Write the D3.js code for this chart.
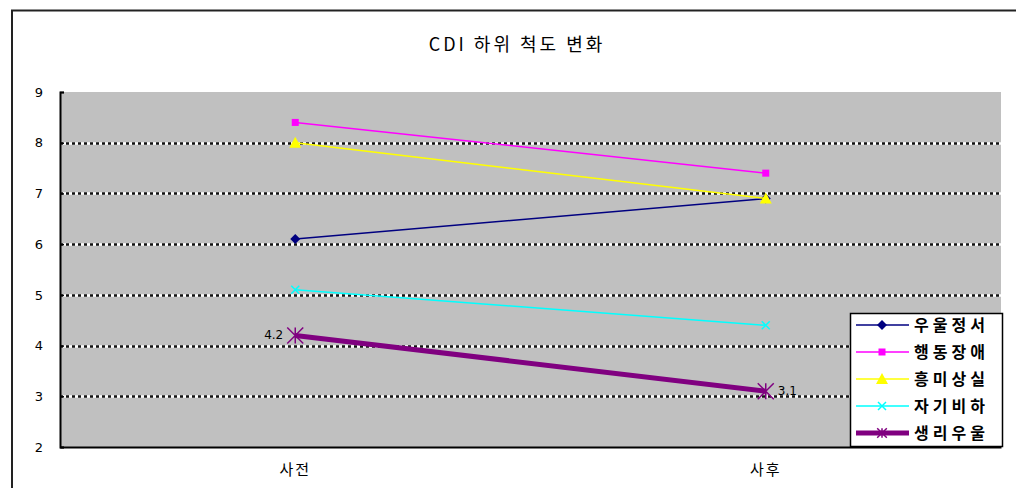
<!DOCTYPE html>
<html>
<head>
<meta charset="utf-8">
<script src="https://cdn.jsdelivr.net/npm/d3@7"></script>
<style>
  html, body { margin: 0; padding: 0; background: #fff; }
  svg { display: block; }
  text { fill: #000; }
</style>
</head>
<body>
<svg id="chart" width="1016" height="488"></svg>
<script>
// CDI subscale scores, before and after
const title = "CDI 하위 척도 변화";
const categories = ["사전", "사후"];
const seriesNames = ["우울정서", "행동장애", "흥미상실", "자기비하", "생리우울"];
const depressedMood = [6.1, 6.9];
const conductProblems = [8.4, 7.4];
const anhedonia = [8.0, 6.9];
const selfDeprecation = [5.1, 4.4];
const physiological = [4.2, 3.1];
const yTicks = [2, 3, 4, 5, 6, 7, 8, 9];
const gridTicks = [3, 4, 5, 6, 7, 8];

const seriesValues = [depressedMood, conductProblems, anhedonia, selfDeprecation, physiological];
const seriesColors = ["#000080", "#ff00ff", "#ffff00", "#00ffff", "#800080"];
const seriesWidths = [1.5, 1.5, 1.5, 1.5, 5];
const seriesMarkers = ["diamond", "square", "triangle", "cross", "star"];
const labelledSeries = 4;

const KR = "'Noto Sans CJK KR', sans-serif";
const NUM = "'DejaVu Sans', sans-serif";

const svg = d3.select("#chart");

// outer frame
svg.append("path")
  .attr("d", "M12,488 L12,10.5 L1016,10.5")
  .attr("fill", "none").attr("stroke", "#222").attr("stroke-width", 2);

const plot = { left: 60, right: 1001, top: 92, bottom: 447 };

const x = d3.scaleBand().domain(categories).range([plot.left, plot.right]);
const xc = c => x(c) + x.bandwidth() / 2;
const y = d3.scaleLinear().domain([2, 9]).range([plot.bottom, plot.top]);

// plot background
svg.append("rect")
  .attr("x", plot.left).attr("y", plot.top)
  .attr("width", plot.right - plot.left).attr("height", plot.bottom - plot.top)
  .attr("fill", "#c0c0c0");

// dotted gridlines
const grid = svg.append("g");
grid.selectAll("line.base").data(gridTicks).join("line")
  .attr("class", "base")
  .attr("x1", plot.left).attr("x2", plot.right)
  .attr("y1", d => Math.round(y(d)) + 0.5).attr("y2", d => Math.round(y(d)) + 0.5)
  .attr("stroke", "#fff").attr("stroke-width", 2.5);
grid.selectAll("line.dash").data(gridTicks).join("line")
  .attr("class", "dash")
  .attr("x1", plot.left).attr("x2", plot.right)
  .attr("y1", d => Math.round(y(d)) + 0.5).attr("y2", d => Math.round(y(d)) + 0.5)
  .attr("stroke", "#111").attr("stroke-width", 2.5).attr("stroke-dasharray", "3,3");

// y axis
const yAxis = svg.append("g")
  .attr("transform", `translate(${plot.left},0)`)
  .call(d3.axisLeft(y).tickValues(yTicks).tickFormat(d3.format("d")).tickSize(-4).tickPadding(17));
yAxis.select(".domain").attr("stroke", "#000").attr("stroke-width", 2);
yAxis.selectAll(".tick line").attr("stroke", "#000").attr("stroke-width", 1.5);
yAxis.selectAll(".tick text").attr("font-size", 13).attr("font-family", NUM).attr("fill", "#000");

// x axis
const xAxis = svg.append("g")
  .attr("transform", `translate(0,${plot.bottom})`)
  .call(d3.axisBottom(x).tickSize(0).tickPadding(17));
xAxis.select(".domain").attr("stroke", "#000").attr("stroke-width", 2);
xAxis.selectAll(".tick text").attr("font-size", 15).attr("font-family", KR)
  .attr("letter-spacing", 2).attr("fill", "#000");

// title
svg.append("text")
  .attr("x", 517).attr("y", 51)
  .attr("text-anchor", "middle")
  .attr("font-size", 18).attr("font-family", KR)
  .attr("letter-spacing", 3)
  .text(title);

// marker shapes
function marker(g, type, color, cx, cy, scale) {
  const s = scale || 1;
  if (type === "diamond") {
    g.append("path").attr("d", `M${cx},${cy - 5 * s}L${cx + 5 * s},${cy}L${cx},${cy + 5 * s}L${cx - 5 * s},${cy}Z`)
      .attr("fill", color);
  } else if (type === "square") {
    g.append("rect").attr("x", cx - 3.5 * s).attr("y", cy - 3.5 * s)
      .attr("width", 7 * s).attr("height", 7 * s).attr("fill", color);
  } else if (type === "triangle") {
    g.append("path").attr("d", `M${cx},${cy - 6 * s}L${cx + 6 * s},${cy + 5 * s}L${cx - 6 * s},${cy + 5 * s}Z`)
      .attr("fill", color);
  } else if (type === "cross") {
    g.append("path").attr("d", `M${cx - 4 * s},${cy - 4 * s}L${cx + 4 * s},${cy + 4 * s}M${cx + 4 * s},${cy - 4 * s}L${cx - 4 * s},${cy + 4 * s}`)
      .attr("stroke", color).attr("stroke-width", 1.5);
  } else if (type === "star") {
    g.append("path").attr("d", `M${cx - 8 * s},${cy - 8 * s}L${cx + 8 * s},${cy + 8 * s}M${cx + 8 * s},${cy - 8 * s}L${cx - 8 * s},${cy + 8 * s}M${cx},${cy - 8 * s}L${cx},${cy + 8 * s}`)
      .attr("stroke", color).attr("stroke-width", 1.5);
  }
}

// series lines and markers
const line = d3.line().x((d, i) => xc(categories[i])).y(d => y(d));
seriesValues.forEach((vals, si) => {
  const g = svg.append("g");
  g.append("path").datum(vals)
    .attr("d", line)
    .attr("fill", "none")
    .attr("stroke", seriesColors[si])
    .attr("stroke-width", seriesWidths[si]);
  vals.forEach((v, i) => marker(g, seriesMarkers[si], seriesColors[si], xc(categories[i]), y(v)));
});

// value labels on the last series
const lv = seriesValues[labelledSeries];
svg.append("text")
  .attr("x", xc(categories[0]) - 12).attr("y", y(lv[0]) + 4)
  .attr("text-anchor", "end").attr("font-size", 12).attr("font-family", NUM)
  .text(lv[0].toFixed(1));
svg.append("text")
  .attr("x", xc(categories[1]) + 12).attr("y", y(lv[1]) + 4)
  .attr("text-anchor", "start").attr("font-size", 12).attr("font-family", NUM)
  .text(lv[1].toFixed(1));

// legend
const legend = svg.append("g");
legend.append("rect")
  .attr("x", 850.5).attr("y", 313.5).attr("width", 152).attr("height", 133)
  .attr("fill", "#fff").attr("stroke", "#000").attr("stroke-width", 1.5);
seriesNames.forEach((name, si) => {
  const ly = 325 + si * 27;
  legend.append("line")
    .attr("x1", 856).attr("x2", 909).attr("y1", ly).attr("y2", ly)
    .attr("stroke", seriesColors[si]).attr("stroke-width", seriesWidths[si]);
  marker(legend, seriesMarkers[si], seriesColors[si], 882, ly, si === 4 ? 0.6 : 1);
  legend.append("text")
    .attr("x", 914).attr("y", ly + 6)
    .attr("font-size", 16).attr("font-weight", "bold").attr("font-family", KR)
    .attr("letter-spacing", 4)
    .text(name);
});
</script>
</body>
</html>
